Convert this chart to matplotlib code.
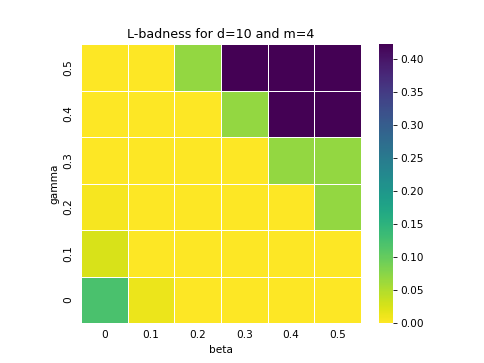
import matplotlib
matplotlib.use("Agg")
import matplotlib.pyplot as plt
import seaborn as sns
import numpy as np
import pandas as pd

beta = ["0", "0.1", "0.2", "0.3", "0.4", "0.5"]
gamma = ["0.5", "0.4", "0.3", "0.2", "0.1", "0"]
row_g05 = [0.0, 0.0, 0.068, 0.424, 0.424, 0.424]
row_g04 = [0.0, 0.0, 0.0, 0.068, 0.424, 0.424]
row_g03 = [0.0, 0.0, 0.0, 0.0, 0.068, 0.068]
row_g02 = [0.005, 0.0, 0.0, 0.0, 0.0, 0.068]
row_g01 = [0.026, 0.0, 0.0, 0.0, 0.0, 0.0]
row_g00 = [0.121, 0.013, 0.0, 0.0, 0.0, 0.0]

df = pd.DataFrame([row_g05, row_g04, row_g03, row_g02, row_g01, row_g00],
                  index=gamma, columns=beta)

fig, ax = plt.subplots(figsize=(6.4, 4.8), dpi=75.625)
sns.heatmap(df, cmap="viridis_r", linewidths=0.5, linecolor="white", ax=ax)
ax.set_xlabel("beta")
ax.set_ylabel("gamma")
ax.set_title("L-badness for d=10 and m=4")
ax.tick_params(length=0, pad=7)
plt.setp(ax.get_yticklabels(), rotation=90, va="center")
ax.set_position([81 / 484, 1 - 323 / 363, 280 / 484, 279 / 363])
fig.savefig("out.png", dpi=75.625)
